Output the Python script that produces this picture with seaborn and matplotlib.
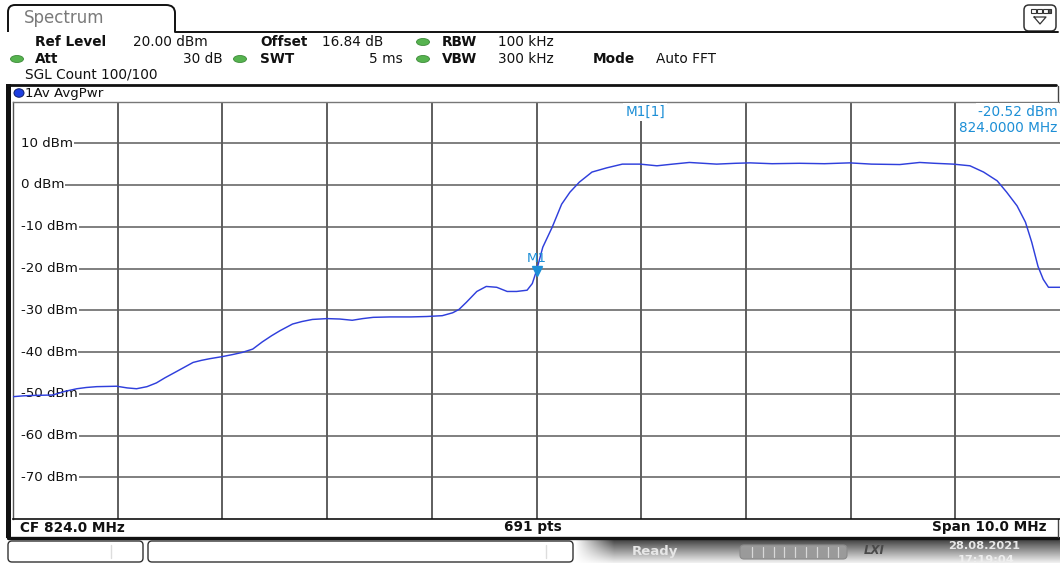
import numpy as np
import pandas as pd
import matplotlib
matplotlib.use("Agg")
import matplotlib.pyplot as plt
import seaborn as sns
from matplotlib.patches import FancyBboxPatch, Ellipse, Rectangle, PathPatch
from matplotlib.path import Path

# ---- trace data: averaged power vs frequency ----
freq_mhz = [819.00, 819.10, 819.20, 819.38, 819.50, 819.61, 819.70, 819.80, 819.99, 820.09,
            820.18, 820.28, 820.37, 820.45, 820.56, 820.64, 820.72, 820.80, 820.88, 821.00,
            821.10, 821.19, 821.29, 821.38, 821.47, 821.55, 821.67, 821.76, 821.86, 822.00,
            822.12, 822.24, 822.34, 822.44, 822.60, 822.80, 822.95, 823.10, 823.20, 823.26,
            823.33, 823.43, 823.52, 823.62, 823.72, 823.81, 823.91, 823.96, 824.00, 824.06,
            824.15, 824.24, 824.32, 824.41, 824.53, 824.67, 824.82, 824.99, 825.15, 825.30,
            825.46, 825.72, 825.90, 826.04, 826.25, 826.51, 826.75, 826.99, 827.20, 827.47,
            827.66, 827.80, 827.98, 828.14, 828.27, 828.40, 828.49, 828.59, 828.67, 828.73,
            828.79, 828.84, 828.89, 829.00]
level_dbm = [-50.7, -50.5, -50.4, -50.3, -49.4, -48.8, -48.5, -48.3, -48.2, -48.6,
             -48.8, -48.3, -47.4, -46.2, -44.7, -43.6, -42.5, -42.0, -41.6, -41.1,
             -40.6, -40.1, -39.3, -37.6, -36.1, -34.9, -33.3, -32.7, -32.2, -32.0,
             -32.1, -32.4, -32.0, -31.7, -31.6, -31.6, -31.5, -31.3, -30.6, -29.8,
             -28.1, -25.5, -24.3, -24.5, -25.5, -25.5, -25.2, -23.6, -20.52, -14.9,
             -10.1, -4.6, -1.7, 0.7, 3.1, 4.1, 5.0, 5.0, 4.6, 5.0,
             5.4, 5.0, 5.2, 5.3, 5.1, 5.2, 5.1, 5.3, 5.0, 4.9,
             5.4, 5.2, 5.0, 4.6, 3.1, 1.0, -1.7, -5.0, -8.9, -13.7,
             -19.5, -22.6, -24.5, -24.5]

# marker M1
m1_freq = 824.0
m1_level = -20.52

# axis settings
center_mhz = 824.0
span_mhz = 10.0
ref_level = 20.0
y_bottom = -80.0
level_ticks = [10, 0, -10, -20, -30, -40, -50, -60, -70]
n_points = 691

TRACE_BLUE = "#2f3fdc"
MARKER_BLUE = "#1d8fd6"
GREEN = "#56b34f"

sns.set_theme(style="white")
plt.rcParams["font.family"] = ["DejaVu Sans"]

W, H = 1060, 563
fig = plt.figure(figsize=(W / 100, H / 100), dpi=100)
fig.patch.set_facecolor("white")

# pixel-space canvas for the instrument frame
bg = fig.add_axes([0, 0, 1, 1], zorder=0)
bg.set_xlim(0, W)
bg.set_ylim(H, 0)
bg.axis("off")

# ---- tab "Spectrum" ----
tab = Path([(8, 32), (8, 12), (8, 5), (15, 5), (166, 5), (175, 5), (175, 13), (175, 32)],
           [Path.MOVETO, Path.LINETO, Path.CURVE3, Path.CURVE3, Path.LINETO,
            Path.CURVE3, Path.CURVE3, Path.LINETO])
bg.add_patch(PathPatch(tab, fill=False, lw=1.4, edgecolor="#111"))
bg.plot([175, 1058], [32, 32], color="#111", lw=1.4)
bg.text(24, 18, "Spectrum", fontsize=12, color="#7a7a7a", va="center", ha="left")

# icon at top right
bg.add_patch(FancyBboxPatch((1024, 5), 32, 26, boxstyle="round,pad=0,rounding_size=5",
                            fill=False, edgecolor="#333", lw=1.1))
for xx in (1031, 1037, 1043):
    bg.add_patch(Rectangle((xx, 9), 5, 4, facecolor="white", edgecolor="#333", lw=0.8))
bg.add_patch(Rectangle((1048, 9), 3, 4, facecolor="#555", edgecolor="#333", lw=0.8))
bg.plot([1034, 1046, 1040, 1034], [17, 17, 24, 17], color="#333", lw=0.9)

# ---- settings header ----
def hdr(x, y, s, bold=False, ha="left"):
    bg.text(x, y, s, fontsize=9.8, fontweight="bold" if bold else "normal",
            color="#111", va="center", ha=ha)

def led(x, y):
    bg.add_patch(Ellipse((x, y), 13, 7, facecolor=GREEN, edgecolor="#3d8a39", lw=0.6))

hdr(35, 42, "Ref Level", bold=True)
hdr(133, 42, "20.00 dBm")
hdr(260, 42, "Offset", bold=True)
hdr(322, 42, "16.84 dB")
led(423, 42)
hdr(442, 42, "RBW", bold=True)
hdr(498, 42, "100 kHz")

led(17, 59)
hdr(35, 59, "Att", bold=True)
hdr(223, 59, "30 dB", ha="right")
led(240, 59)
hdr(260, 59, "SWT", bold=True)
hdr(403, 59, "5 ms", ha="right")
led(423, 59)
hdr(442, 59, "VBW", bold=True)
hdr(498, 59, "300 kHz")
hdr(593, 59, "Mode", bold=True)
hdr(656, 59, "Auto FFT")

hdr(25, 75, "SGL Count 100/100")

# window frame
bg.plot([10, 1056], [84.5, 84.5], color="#111", lw=2.0)
bg.add_patch(Rectangle((6, 84), 4.5, 454, facecolor="#111", edgecolor="none"))
bg.plot([1058, 1058], [86, 101], color="#444", lw=1.0)
bg.add_patch(Ellipse((19, 93), 10, 8.5, facecolor="#1f3fe0", edgecolor="#10206a", lw=0.7))
bg.text(25, 93, "1Av AvgPwr", fontsize=9.6, color="#111", va="center", ha="left")

# bottom info row
bg.text(20, 527.5, f"CF {center_mhz:.1f} MHz", fontsize=9.8, fontweight="bold",
        color="#111", va="center", ha="left")
bg.text(533, 527.5, f"{n_points} pts", fontsize=9.8, fontweight="bold",
        color="#111", va="center", ha="center")
bg.text(1047, 527.5, f"Span {span_mhz:.1f} MHz", fontsize=9.8, fontweight="bold",
        color="#111", va="center", ha="right")
bg.plot([8, 1058], [537.5, 537.5], color="#111", lw=2.4)
bg.plot([1058, 1058], [519, 537], color="#444", lw=1.0)

# ---- status bar ----
ny, nx = 26, 485
tv = np.linspace(0, 1, ny)[:, None]
shade = 0.16 + 0.78 * tv ** 0.9
fade = np.clip(np.linspace(0, 1, nx) / 0.08, 0, 1)[None, :]
val = 1.0 - (1.0 - shade) * fade
grad = np.dstack([val, val, val])
bg.imshow(grad, extent=[575, 1060, 563, 537], aspect="auto", zorder=1, interpolation="bilinear")
bg.set_xlim(0, W)
bg.set_ylim(H, 0)

bg.add_patch(FancyBboxPatch((8, 541), 135, 21, boxstyle="round,pad=0,rounding_size=4",
                            facecolor="white", edgecolor="#333", lw=1.0, zorder=2))
bg.add_patch(FancyBboxPatch((148, 541), 425, 21, boxstyle="round,pad=0,rounding_size=4",
                            facecolor="white", edgecolor="#333", lw=1.0, zorder=2))
bg.plot([111, 111], [545, 558], color="#ddd", lw=1, zorder=3)
bg.plot([546, 546], [545, 558], color="#ddd", lw=1, zorder=3)

bg.text(632, 552, "Ready", fontsize=9.5, fontweight="bold", color="#e6e6e6",
        va="center", ha="left", zorder=3)
bg.add_patch(FancyBboxPatch((740, 545), 107, 14, boxstyle="round,pad=0,rounding_size=4",
                            facecolor="#9a9a9a", edgecolor="#8a8a8a", lw=0.8, zorder=3))
for xx in np.arange(752, 842, 10.8):
    bg.plot([xx, xx], [547, 557], color="#d8d8d8", lw=0.9, zorder=4)
bg.text(874, 551, "LXI", fontsize=8.5, fontweight="bold", fontstyle="italic",
        color="#4a4a4a", va="center", ha="center", zorder=3)
bg.text(948, 546, "28.08.2021", fontsize=8.2, fontweight="bold", color="#e8e8e8",
        va="center", ha="left", zorder=3)
bg.text(958, 560, "17:19:04", fontsize=8.2, fontweight="bold", color="#eeeeee",
        va="center", ha="left", zorder=3)

# ---- diagram ----
x_left_px, x_right_px, y_top_px, y_bot_px = 13, 1060, 101.5, 519
ax = fig.add_axes([x_left_px / W, 1 - y_bot_px / H,
                   (x_right_px - x_left_px) / W, (y_bot_px - y_top_px) / H], zorder=2)
ax.set_facecolor("white")
f_lo, f_hi = center_mhz - span_mhz / 2, center_mhz + span_mhz / 2
ax.set_xlim(f_lo, f_hi)
ax.set_ylim(y_bottom, ref_level)
ax.set_xticks([])
ax.set_yticks([])
for side, col, lw in (("top", "#777", 1.0), ("bottom", "#111", 1.2),
                      ("left", "#555", 1.0), ("right", "#555", 0.0)):
    ax.spines[side].set_color(col)
    ax.spines[side].set_linewidth(lw)

# vertical graticule
for f in np.arange(f_lo + 1, f_hi, 1.0):
    ax.axvline(f, color="#333", lw=1.1, zorder=1)

# level labels, horizontal graticule begins after each label
renderer = fig.canvas.get_renderer()
inv = ax.transData.inverted()
label_x = f_lo + 0.075
for v in level_ticks:
    t = ax.text(label_x, v, f"{v} dBm", fontsize=9.6, color="#111",
                va="center", ha="left", zorder=2)
    bb = t.get_window_extent(renderer=renderer)
    x_end = inv.transform((bb.x1 + 1, 0))[0]
    ax.hlines(v, x_end, f_hi, color="#5c5c5c", lw=1.1, zorder=1)

trace = pd.DataFrame({"freq": freq_mhz, "level": level_dbm})
sns.lineplot(data=trace, x="freq", y="level", ax=ax, color=TRACE_BLUE, lw=1.05,
             estimator=None, sort=False, zorder=4)
ax.set_xlabel("")
ax.set_ylabel("")

# marker M1
ax.plot([m1_freq], [m1_level], marker="v", ms=7, color=MARKER_BLUE, zorder=5, ls="none")
ax.annotate("M1", (m1_freq, m1_level), xytext=(0, 4), textcoords="offset points",
            ha="center", va="bottom", fontsize=9.6, color=MARKER_BLUE, zorder=5)

# marker readout on a white field over the graticule
box = dict(facecolor="white", edgecolor="none", pad=1.5)
ax.text(0.585, 0.975, "M1[1]", transform=ax.transAxes, fontsize=9.8, color=MARKER_BLUE,
        ha="left", va="center", zorder=5, bbox=box)
ax.text(0.9975, 0.975, f"{m1_level:.2f} dBm", transform=ax.transAxes, fontsize=9.8,
        color=MARKER_BLUE, ha="right", va="center", zorder=5, bbox=box)
ax.text(0.9975, 0.936, f"{m1_freq:.4f} MHz", transform=ax.transAxes, fontsize=9.8,
        color=MARKER_BLUE, ha="right", va="center", zorder=5, bbox=box)

fig.savefig("out.png", dpi=100, facecolor="white")
